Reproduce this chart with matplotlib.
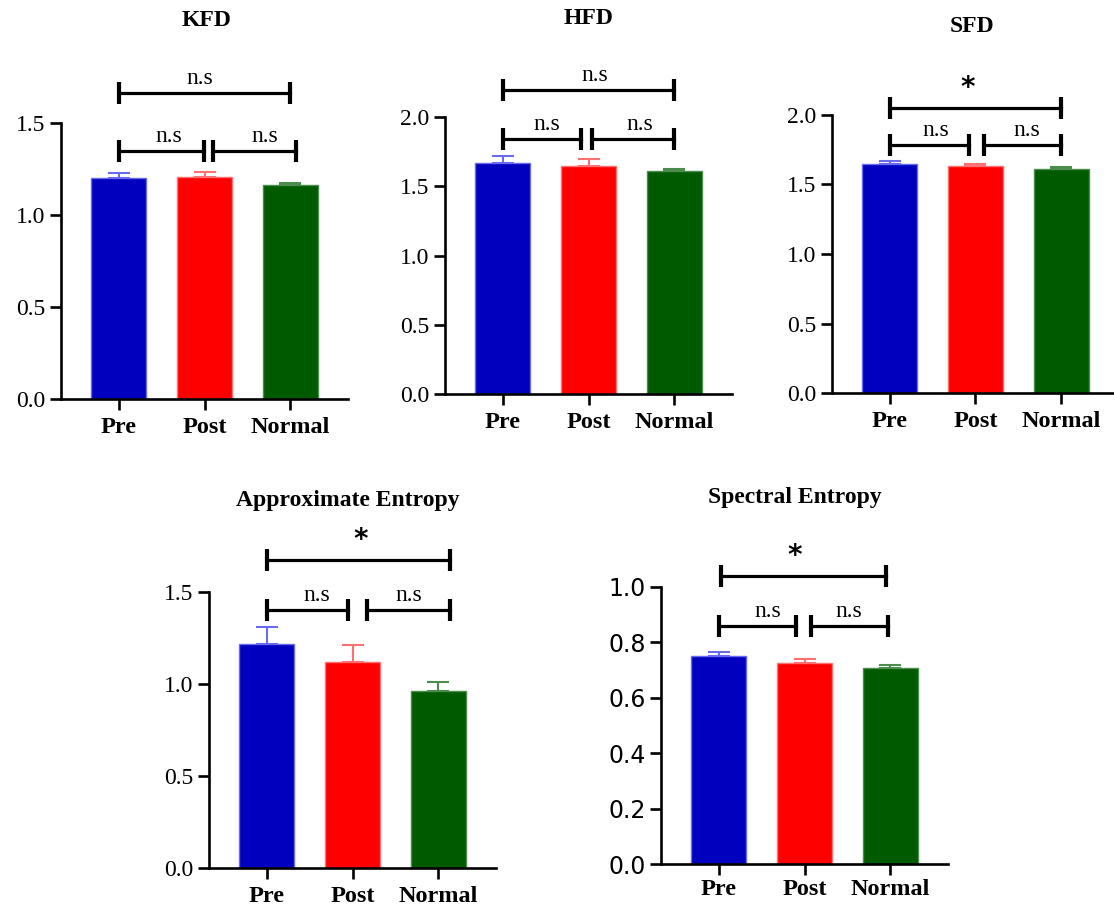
import matplotlib
matplotlib.use("Agg")
import matplotlib.pyplot as plt
from matplotlib.ticker import FormatStrFormatter

W, H = 1114, 907

groups = ["Pre", "Post", "Normal"]
colors = ["#0000BE", "#FF0000", "#005A00"]
edge_colors = ["#6A6AF0", "#FF7070", "#4C8C4C"]

kfd_mean = [1.199, 1.208, 1.161]
kfd_err = [0.028, 0.024, 0.015]
hfd_mean = [1.667, 1.648, 1.607]
hfd_err = [0.053, 0.051, 0.017]
sfd_mean = [1.645, 1.633, 1.609]
sfd_err = [0.024, 0.015, 0.015]
apen_mean = [1.216, 1.120, 0.960]
apen_err = [0.096, 0.093, 0.049]
spen_mean = [0.751, 0.724, 0.709]
spen_err = [0.016, 0.016, 0.011]

# significance brackets: (x0, x1, y, label, label x)
kfd_sig = [(0, 2, 1.661, "n.s", 0.95), (0, 0.99, 1.349, "n.s", 0.59), (1.1, 2.07, 1.349, "n.s", 1.70)]
hfd_sig = [(0, 2, 2.197, "n.s", 1.07), (0, 0.91, 1.843, "n.s", 0.52), (1.04, 2, 1.843, "n.s", 1.60)]
sfd_sig = [(0, 2, 2.053, "*", 0.91), (0, 0.92, 1.782, "n.s", 0.54), (1.1, 2, 1.782, "n.s", 1.60)]
apen_sig = [(0, 2.13, 1.672, "*", 1.10), (0, 0.95, 1.401, "n.s", 0.58), (1.17, 2.13, 1.401, "n.s", 1.65)]
spen_sig = [(0.03, 1.95, 1.038, "*", 0.88), (0, 0.9, 0.858, "n.s", 0.57), (1.07, 1.97, 0.858, "n.s", 1.51)]

SERIF = "Liberation Serif"


def panel(left, zero, top, title, tx, ty, mean, err, sig, ymax, step,
          tick_font=SERIF, xpad=5):
    ax = fig.add_axes([left / W, 1 - zero / H, 287 / W, (zero - top) / H])
    x = range(len(groups))
    ax.bar(x, mean, width=0.65, color=colors, edgecolor=edge_colors, linewidth=1, zorder=2)
    for i in x:
        ax.errorbar(i, mean[i], yerr=[[0], [err[i]]], color=edge_colors[i],
                    elinewidth=1.5, capsize=8, capthick=1.5, zorder=1)
    ax.set_xlim(-0.67, 2.67)
    ax.set_ylim(0, ymax)
    ticks = [round(step * k, 2) for k in range(int(round(ymax / step)) + 1)]
    ax.set_yticks(ticks)
    ax.yaxis.set_major_formatter(FormatStrFormatter("%.1f"))
    ax.set_xticks(list(x))
    ax.set_xticklabels(groups, fontfamily=SERIF, fontweight="bold", fontsize=17.5)
    for lab in ax.get_yticklabels():
        lab.set_fontfamily(tick_font)
        lab.set_fontsize(17)
    for s in ["top", "right"]:
        ax.spines[s].set_visible(False)
    for s in ["left", "bottom"]:
        ax.spines[s].set_linewidth(1.9)
    ax.tick_params(axis="both", width=1.9, length=8, direction="out")
    ax.tick_params(axis="x", pad=xpad)
    ax.tick_params(axis="y", pad=3)
    for x0, x1, y, lab, lx in sig:
        ax.plot([x0, x1], [y, y], color="black", lw=2.3, clip_on=False)
        ax.plot([x0, x1], [y, y], ls="none", marker="|", ms=16, mew=3,
                color="black", clip_on=False)
        if lab == "*":
            ax.annotate(lab, (lx, y), xytext=(0, 6), textcoords="offset pixels",
                        ha="center", va="bottom", fontsize=20, fontweight="bold",
                        fontfamily="DejaVu Sans", annotation_clip=False)
        else:
            ax.annotate(lab, (lx, y), xytext=(0, 4), textcoords="offset pixels",
                        ha="center", va="bottom", fontsize=17,
                        fontfamily=SERIF, annotation_clip=False)
    fig.text(tx / W, 1 - ty / H, title, ha="center", va="center",
             fontfamily=SERIF, fontweight="bold", fontsize=17)
    return ax


fig = plt.figure(figsize=(W / 100, H / 100), dpi=100)

panel(61, 399, 123, "KFD", 207, 21, kfd_mean, kfd_err, kfd_sig, 1.5, 0.5)
panel(445, 394, 117, "HFD", 589, 18, hfd_mean, hfd_err, hfd_sig, 2.0, 0.5)
panel(832, 393, 115, "SFD", 972, 26, sfd_mean, sfd_err, sfd_sig, 2.0, 0.5)
panel(209, 868, 592, "Approximate Entropy", 348, 500, apen_mean, apen_err, apen_sig, 1.5, 0.5)
panel(661, 864, 587, "Spectral Entropy", 795, 498, spen_mean, spen_err, spen_sig, 1.0, 0.2,
      tick_font="DejaVu Sans", xpad=3)

fig.savefig("out.png", dpi=100)
